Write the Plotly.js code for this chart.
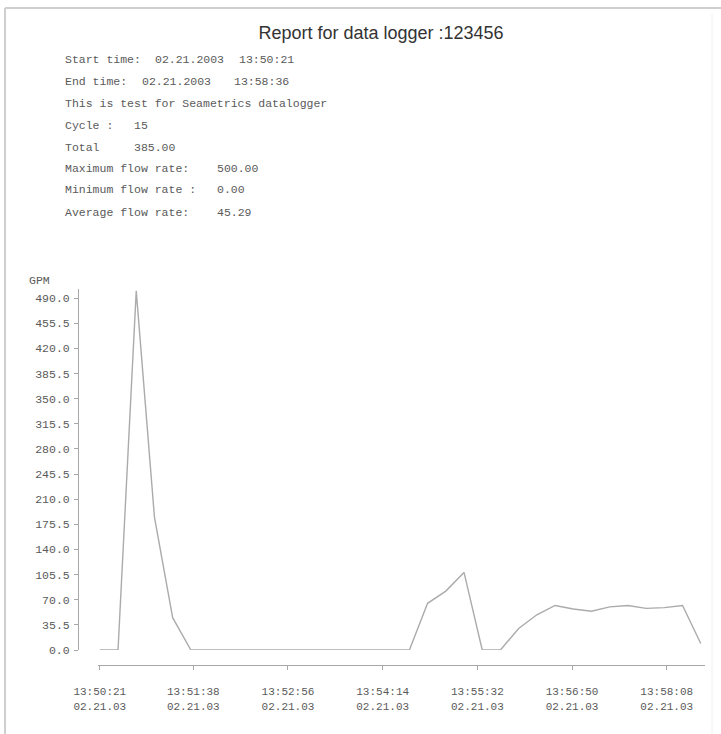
<!DOCTYPE html>
<html>
<head>
<meta charset="utf-8">
<script src="https://cdn.plot.ly/plotly-3.0.1.min.js"></script>
<style>html,body{margin:0;padding:0;background:#fff;}#chart{width:721px;height:734px;}</style>
</head>
<body>
<div id="chart"></div>
<script>
// ---- data ----
const times = [
  "2003-02-21 13:50:21","2003-02-21 13:50:36","2003-02-21 13:50:51",
  "2003-02-21 13:51:06","2003-02-21 13:51:21","2003-02-21 13:51:36","2003-02-21 13:51:51",
  "2003-02-21 13:52:06","2003-02-21 13:52:21","2003-02-21 13:52:36","2003-02-21 13:52:51",
  "2003-02-21 13:53:06","2003-02-21 13:53:21","2003-02-21 13:53:36","2003-02-21 13:53:51",
  "2003-02-21 13:54:06","2003-02-21 13:54:21","2003-02-21 13:54:36","2003-02-21 13:54:51",
  "2003-02-21 13:55:06","2003-02-21 13:55:21","2003-02-21 13:55:36","2003-02-21 13:55:51",
  "2003-02-21 13:56:06","2003-02-21 13:56:21","2003-02-21 13:56:36","2003-02-21 13:56:51",
  "2003-02-21 13:57:06","2003-02-21 13:57:21","2003-02-21 13:57:36","2003-02-21 13:57:51",
  "2003-02-21 13:58:06","2003-02-21 13:58:21","2003-02-21 13:58:36"
];
const flowGPM = [
  0, 0, 500,
  185, 45, 0, 0,
  0, 0, 0, 0,
  0, 0, 0, 0,
  0, 0, 0, 65,
  82, 108, 0, 0,
  30, 49, 62, 57,
  54, 60, 62, 58,
  59, 62, 9
];
const xTickVals = ["2003-02-21 13:50:21","2003-02-21 13:51:38","2003-02-21 13:52:56",
  "2003-02-21 13:54:14","2003-02-21 13:55:32","2003-02-21 13:56:50","2003-02-21 13:58:08"];
const xTickText = ["13:50:21<br>02.21.03","13:51:38<br>02.21.03","13:52:56<br>02.21.03",
  "13:54:14<br>02.21.03","13:55:32<br>02.21.03","13:56:50<br>02.21.03","13:58:08<br>02.21.03"];
const yTickVals = [0,35,70,105,140,175,210,245,280,315,350,385,420,455,490];
const yTickText = ["0.0","35.5","70.0","105.5","140.0","175.5","210.0","245.5","280.0",
  "315.5","350.0","385.5","420.0","455.5","490.0"];
const titleText = "Report for data logger :123456";
const infoLabels = ["Start time:","End time:","This is test for Seametrics datalogger",
  "Cycle :","Total","Maximum flow rate:","Minimum flow rate :","Average flow rate:"];
const infoValues = ["02.21.2003","02.21.2003","","15","385.00","500.00","0.00","45.29"];
const infoValues2 = ["13:50:21","13:58:36","","","","","",""];
const yUnit = "GPM";

// ---- layout helpers (pixel -> paper) ----
const W = 721, H = 734;
const px = v => v / W;
const py = v => 1 - v / H;
const mono = "Liberation Mono, DejaVu Sans Mono, monospace";
const txtCol = "#5a5a5a";

const infoY = [60, 82, 103, 125, 147, 168, 190, 212];
const valX = [153, 140, 0, 132, 132, 215, 215, 215];
const val2X = [237, 232];

const annotations = [];
infoLabels.forEach((t, i) => {
  annotations.push({text: t, x: px(63), y: py(infoY[i]), xref: "paper", yref: "paper",
    xanchor: "left", yanchor: "middle", showarrow: false, font: {family: mono, size: 11.5, color: txtCol}});
  if (infoValues[i]) annotations.push({text: infoValues[i], x: px(valX[i]), y: py(infoY[i]), xref: "paper", yref: "paper",
    xanchor: "left", yanchor: "middle", showarrow: false, font: {family: mono, size: 11.5, color: txtCol}});
  if (infoValues2[i]) annotations.push({text: infoValues2[i], x: px(val2X[i]), y: py(infoY[i]), xref: "paper", yref: "paper",
    xanchor: "left", yanchor: "middle", showarrow: false, font: {family: mono, size: 11.5, color: txtCol}});
});
annotations.push({text: yUnit, x: px(27), y: py(281), xref: "paper", yref: "paper",
  xanchor: "left", yanchor: "middle", showarrow: false, font: {family: mono, size: 11.5, color: txtCol}});

const trace = {
  x: times, y: flowGPM, type: "scatter", mode: "lines",
  line: {color: "#ababab", width: 1.4}, hoverinfo: "skip"
};

const layout = {
  width: W, height: H,
  margin: {l: 0, r: 0, t: 0, b: 0},
  paper_bgcolor: "#fff", plot_bgcolor: "rgba(0,0,0,0)",
  showlegend: false,
  title: {text: titleText, x: 381 / W, xref: "container", xanchor: "center",
    y: 1 - 33 / H, yref: "container", yanchor: "middle",
    font: {family: "Liberation Sans, Arial, sans-serif", size: 18, color: "#333"}},
  xaxis: {
    type: "date",
    domain: [px(98), px(705)],
    anchor: "free", position: (H - 665) / H,
    range: ["2003-02-21 13:50:19.5", "2003-02-21 13:58:39.5"],
    tickmode: "array", tickvals: xTickVals, ticktext: xTickText,
    showline: true, linecolor: "#a8a8a8", linewidth: 1,
    ticks: "outside", ticklen: 4, tickcolor: "#a8a8a8",
    ticklabelstandoff: 12,
    showgrid: false, zeroline: false,
    tickfont: {family: mono, size: 11, color: txtCol}
  },
  yaxis: {
    domain: [(H - 650) / H, (H - 289) / H],
    anchor: "free", position: px(78),
    range: [0, 502.6],
    tickmode: "array", tickvals: yTickVals, ticktext: yTickText,
    showline: true, linecolor: "#a8a8a8", linewidth: 1,
    ticks: "outside", ticklen: 4, tickcolor: "#a8a8a8",
    ticklabelstandoff: 2,
    showgrid: false, zeroline: false,
    tickfont: {family: mono, size: 11.5, color: txtCol}
  },
  annotations: annotations,
  shapes: [
    {type: "line", xref: "paper", yref: "paper", x0: px(5), x1: 1, y0: py(8), y1: py(8),
      line: {color: "#cfcfcf", width: 2}},
    {type: "line", xref: "paper", yref: "paper", x0: px(5), x1: px(5), y0: py(8), y1: 0,
      line: {color: "#cfcfcf", width: 2}},
    {type: "line", xref: "paper", yref: "paper", x0: px(712), x1: px(712), y0: py(14), y1: 0,
      line: {color: "#f0f0f0", width: 1}}
  ]
};

Plotly.newPlot("chart", [trace], layout, {displayModeBar: false, staticPlot: true});
</script>
</body>
</html>
